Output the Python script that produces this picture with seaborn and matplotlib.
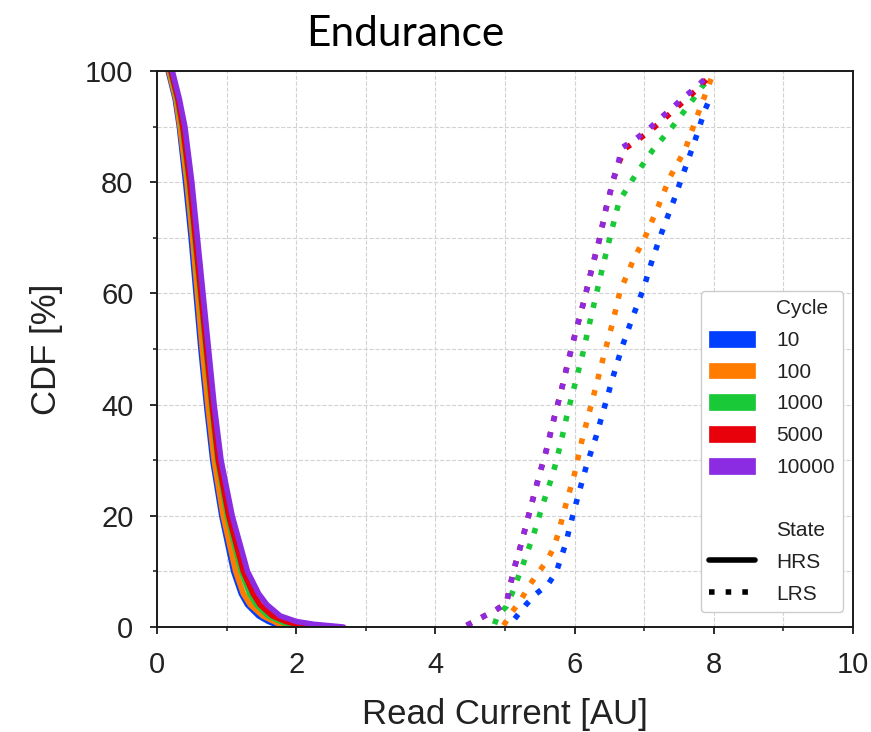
import numpy as np
import pandas as pd
import matplotlib
matplotlib.use("Agg")
import matplotlib.pyplot as plt
import seaborn as sns
from matplotlib.patches import Patch
from matplotlib.lines import Line2D
from matplotlib.ticker import MultipleLocator

# ---------------- data ----------------
cycles = ["10", "100", "1000", "5000", "10000"]
colors = ["#023eff", "#ff7c00", "#1ac938", "#e8000b", "#8b2be2"]
states = ["HRS", "LRS"]

hrs_cdf = [100, 95, 90, 80, 70, 60, 50, 40, 30, 20, 10, 6, 4, 2, 1, 0.5, 0]
hrs_10 = [0.16, 0.26, 0.32, 0.41, 0.49, 0.56, 0.63, 0.71, 0.80, 0.93, 1.10, 1.21, 1.30, 1.46, 1.60, 1.70, 1.80]
hrs_100 = [0.17, 0.27, 0.33, 0.43, 0.51, 0.58, 0.65, 0.73, 0.82, 0.95, 1.13, 1.24, 1.34, 1.52, 1.68, 1.76, 1.86]
hrs_1000 = [0.19, 0.29, 0.36, 0.46, 0.54, 0.62, 0.70, 0.78, 0.87, 1.01, 1.21, 1.33, 1.43, 1.60, 1.78, 1.88, 2.02]
hrs_5000 = [0.20, 0.30, 0.37, 0.47, 0.55, 0.63, 0.71, 0.79, 0.88, 1.03, 1.24, 1.38, 1.48, 1.66, 1.85, 2.00, 2.25]
hrs_10000 = [0.22, 0.32, 0.40, 0.50, 0.58, 0.66, 0.74, 0.82, 0.92, 1.08, 1.30, 1.46, 1.58, 1.77, 2.00, 2.25, 2.68]

lrs_10_x = [5.14, 5.30, 5.45, 5.62, 5.74, 5.88, 5.93, 6.05, 6.17, 6.31, 6.43, 6.55, 6.68, 6.83, 6.99, 7.12, 7.27, 7.43, 7.58, 7.73, 7.87, 7.96]
lrs_10_y = [1.5, 4.0, 6.0, 7.7, 10.0, 15.3, 18.0, 23.6, 29.0, 34.3, 39.6, 44.9, 50.3, 55.6, 60.9, 66.2, 71.6, 76.9, 82.2, 87.5, 92.9, 95.5]
lrs_100_x = [4.98, 5.10, 5.22, 5.34, 5.45, 5.59, 5.69, 5.76, 5.88, 6.00, 6.10, 6.21, 6.32, 6.43, 6.55, 6.65, 6.83, 7.03, 7.20, 7.37, 7.59, 7.74, 7.90, 7.97]
lrs_100_y = [0.3, 2.7, 4.7, 7.3, 9.3, 11.7, 14.0, 16.6, 22.3, 27.6, 33.3, 38.6, 43.9, 49.3, 54.9, 60.3, 65.6, 70.6, 75.6, 80.9, 85.9, 91.2, 96.5, 98.9]
lrs_1000_x = [4.85, 4.89, 5.02, 5.10, 5.26, 5.41, 5.55, 5.69, 5.80, 5.90, 6.01, 6.12, 6.22, 6.32, 6.42, 6.53, 6.64, 6.87, 7.13, 7.42, 7.68, 7.82, 7.97]
lrs_1000_y = [0.5, 2.0, 3.7, 6.0, 11.3, 16.6, 22.3, 27.6, 33.0, 38.6, 43.9, 49.3, 54.9, 60.3, 65.6, 71.2, 76.6, 81.2, 85.9, 90.2, 94.5, 97.0, 99.2]
lrs_5000_x = [4.45, 4.66, 4.86, 5.02, 5.12, 5.24, 5.35, 5.47, 5.59, 5.70, 5.81, 5.91, 6.02, 6.14, 6.25, 6.36, 6.45, 6.56, 6.64, 6.72, 6.93, 7.10, 7.27, 7.43, 7.60, 7.77, 7.93]
lrs_5000_y = [0.3, 1.7, 3.0, 4.3, 10.0, 15.3, 20.6, 26.3, 31.6, 37.3, 42.6, 47.9, 53.3, 58.9, 64.6, 69.9, 75.2, 80.6, 83.6, 86.0, 87.8, 89.4, 91.2, 93.0, 94.9, 96.8, 99.0]
lrs_10000_x = [4.45, 4.66, 4.86, 5.02, 5.12, 5.24, 5.35, 5.47, 5.59, 5.70, 5.81, 5.91, 6.02, 6.14, 6.25, 6.36, 6.45, 6.56, 6.63, 6.68, 6.89, 7.06, 7.23, 7.39, 7.56, 7.73, 7.90]
lrs_10000_y = [0.3, 1.7, 3.0, 4.3, 10.0, 15.3, 20.6, 26.3, 31.6, 37.3, 42.6, 47.9, 53.3, 58.9, 64.6, 69.9, 75.2, 80.6, 83.6, 86.2, 87.9, 89.5, 91.5, 93.2, 95.2, 96.9, 98.9]

hrs_x = [hrs_10, hrs_100, hrs_1000, hrs_5000, hrs_10000]
lrs_x = [lrs_10_x, lrs_100_x, lrs_1000_x, lrs_5000_x, lrs_10000_x]
lrs_y = [lrs_10_y, lrs_100_y, lrs_1000_y, lrs_5000_y, lrs_10000_y]

rows = []
for c, xs in zip(cycles, hrs_x):
    for i, (x, y) in enumerate(zip(xs, hrs_cdf)):
        rows.append(dict(cycle=c, state="HRS", current=x, cdf=y, order=i))
for c, xs, ys in zip(cycles, lrs_x, lrs_y):
    for i, (x, y) in enumerate(zip(xs, ys)):
        rows.append(dict(cycle=c, state="LRS", current=x, cdf=y, order=i))
df = pd.DataFrame(rows)

# ---------------- style ----------------
sns.set_style("ticks")
plt.rcParams["font.family"] = ["Liberation Sans", "DejaVu Sans"]
text_col = "#222222"
dot_pattern = (1, 2.0)

fig = plt.figure(figsize=(8.71, 7.32), dpi=100)
ax = fig.add_axes([0.1803, 0.1434, 0.7990, 0.7596])

palette = dict(zip(cycles, colors))
sns.lineplot(data=df, x="current", y="cdf", hue="cycle", style="state",
             hue_order=cycles, style_order=states, palette=palette,
             dashes={"HRS": "", "LRS": dot_pattern},
             estimator=None, sort=False, linewidth=4, legend=False, ax=ax)

ax.set_xlim(0, 10)
ax.set_ylim(0, 100)
ax.xaxis.set_major_locator(MultipleLocator(2))
ax.xaxis.set_minor_locator(MultipleLocator(1))
ax.yaxis.set_major_locator(MultipleLocator(20))
ax.yaxis.set_minor_locator(MultipleLocator(10))
ax.grid(which="both", linestyle="--", color="#d2d2d2", linewidth=0.8)
ax.set_axisbelow(True)
for s in ax.spines.values():
    s.set_visible(True)
    s.set_color("#1a1a1a")
    s.set_linewidth(1.4)
ax.tick_params(which="major", direction="out", length=5, width=1.3,
               labelsize=21, pad=12, colors="#1a1a1a", labelcolor=text_col)
ax.tick_params(which="minor", direction="out", length=3, width=1.1, colors="#1a1a1a")

ax.set_xlabel("Read Current [AU]", fontsize=25, color=text_col, labelpad=14)
ax.set_ylabel("CDF [%]", fontsize=25, color=text_col, labelpad=16)

# legend
blank = Patch(facecolor="none", edgecolor="none")
handles = [blank] + [Patch(facecolor=c, edgecolor=c, linewidth=0.5) for c in colors] + \
          [blank, blank,
           Line2D([], [], color="black", lw=4),
           Line2D([], [], color="black", lw=4, linestyle=(0, dot_pattern))]
labels = ["Cycle"] + cycles + ["", "State", "HRS", "LRS"]
leg = ax.legend(handles, labels, loc="lower right", bbox_to_anchor=(0.9856, 0.027),
                borderaxespad=0, fontsize=15, handlelength=2.2, handleheight=0.8,
                handletextpad=1.0, labelspacing=0.6, borderpad=0.4,
                frameon=True, fancybox=True, framealpha=1, edgecolor="#cccccc")
for t in leg.get_texts():
    t.set_color(text_col)

fig.text(405.5 / 871, 1 - 46 / 732, "Endurance", ha="center", va="baseline",
         family=["Lato", "DejaVu Sans"], fontsize=30.5, color="black")

fig.savefig("out.png", dpi=100)
